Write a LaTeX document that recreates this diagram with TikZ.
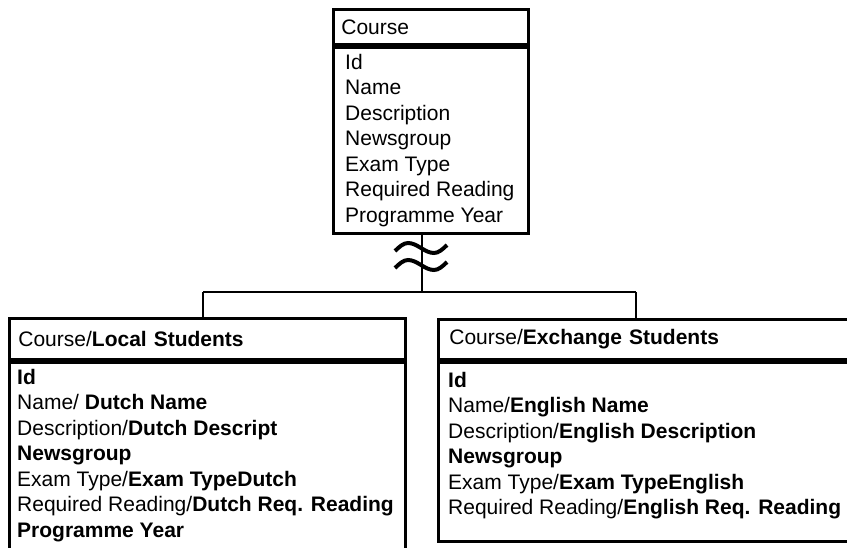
\documentclass[tikz,border=0pt]{standalone}
\usepackage{fontspec}
\setmainfont{Liberation Sans}

\begin{document}
\begin{tikzpicture}[x=1pt,y=-1pt,
  box/.style={draw,line width=2.8pt,rectangle,inner sep=0pt,anchor=north west},
  head/.style={box,align=left},
  attrs/.style={anchor=north west,align=left,inner sep=0pt},
  link/.style={line width=2.3pt},
  squiggle/.style={line width=4pt},
  font=\fontsize{21}{25.5}\selectfont]
  \useasboundingbox (0,0) rectangle (847,547);
  \clip (0,0) rectangle (847,547);

  \node[head,minimum width=195,minimum height=35,text width=179pt,inner xsep=8pt] (course) at (332,8) {Course};
  \node[box,minimum width=195,minimum height=186] (courseattr) at (course.south west) {};
  \node[attrs] (courselist) at ([shift={(13,8)}]courseattr.north west) {Id\\Name\\Description\\Newsgroup\\Exam Type\\Required Reading\\Programme Year};

  \node[head,minimum width=396,minimum height=41,text width=378pt,inner xsep=9pt] (local) at (8,317) {Course/\textbf{Local Students}};
  \node[box,minimum width=396,minimum height=240] (localattr) at (local.south west) {};
  \node[attrs] (locallist) at ([shift={(9,8)}]localattr.north west) {\textbf{Id}\\Name/ \textbf{Dutch Name}\\Description/\textbf{Dutch Descript}\\\textbf{Newsgroup}\\Exam Type/\textbf{Exam TypeDutch}\\Required Reading/\textbf{Dutch Req. Reading}\\\textbf{Programme Year}};

  \node[head,minimum width=440,minimum height=40,text width=418pt,inner xsep=11pt] (exchange) at (437,318) {Course/\textbf{Exchange Students}};
  \node[box,minimum width=440,minimum height=179] (exchangeattr) at (exchange.south west) {};
  \node[attrs] (exchangelist) at ([shift={(11,11)}]exchangeattr.north west) {\textbf{Id}\\Name/\textbf{English Name}\\Description/\textbf{English Description}\\\textbf{Newsgroup}\\Exam Type/\textbf{Exam TypeEnglish}\\Required Reading/\textbf{English Req. Reading}};

  \coordinate (split) at (422,292);
  \coordinate (lbend) at (203,292);
  \coordinate (rbend) at (636,292);
  \draw[link] (split |- courseattr.south) -- (split);
  \draw[link] (lbend) -- (rbend);
  \draw[link] (lbend) -- (lbend |- local.north);
  \draw[link] (rbend) -- (rbend |- exchange.north);

  \draw[squiggle] (395,251) sin (408,243) cos (421,248) sin (434,253) cos (447,245);
  \draw[squiggle] (395,268) sin (408,260) cos (421,265) sin (434,270) cos (447,262);
\end{tikzpicture}
\end{document}
